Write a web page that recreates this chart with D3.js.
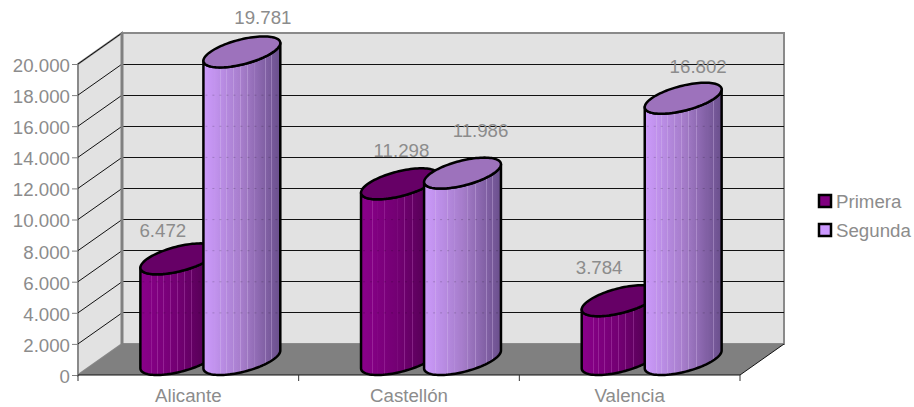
<!DOCTYPE html>
<html>
<head>
<meta charset="utf-8">
<script src="https://cdn.jsdelivr.net/npm/d3@7"></script>
<style>
  html, body { margin: 0; padding: 0; background: #fff; }
  svg { display: block; }
  text { font-family: "Liberation Sans", Arial, sans-serif; fill: #8c8c8c; }
</style>
</head>
<body>
<svg id="chart" width="914" height="407"></svg>
<script>
const categories = ["Alicante", "Castellón", "Valencia"];
const seriesNames = ["Primera", "Segunda"];
const primera = [6472, 11298, 3784];
const segunda = [19781, 11986, 16802];
const yTicks = [0, 2000, 4000, 6000, 8000, 10000, 12000, 14000, 16000, 18000, 20000];

// labels were dragged by hand in the original, so each one has its own nudge
const labelNudge = {
  Primera: [[-16, -28], [2, -33], [-21, -33]],
  Segunda: [[21, -34], [18, -43], [15, -32]],
};

let values = { Primera: primera, Segunda: segunda };
let fontSize = 18.7;

// the box: front plane plus a depth vector going back and up
let plotLeft = 78, plotRight = 740, plotBottom = 375, plotTop = 64;
let depthX = 44, depthY = -31;

let svg = d3.select("#chart");
let defs = svg.append("defs");

let x = d3.scaleBand().domain(categories).range([plotLeft, plotRight]);
let xInner = d3.scaleBand().domain(seriesNames).range([0, x.bandwidth()]).paddingInner(0).paddingOuter(0.75);
let y = d3.scaleLinear().domain([0, 20000]).range([plotBottom, plotTop]);

let locale = d3.formatLocale({ decimal: ",", thousands: ".", grouping: [3], currency: ["", ""] });
let fmt = locale.format(",");

function poly(points) {
  return "M" + points.map((p) => p.join(",")).join("L") + "Z";
}

// Walls and floor
svg.append("path")
  .attr("d", poly([[plotLeft, plotBottom], [plotLeft, plotTop], [plotLeft + depthX, plotTop + depthY], [plotLeft + depthX, plotBottom + depthY]]))
  .attr("fill", "#e2e2e2").attr("stroke", "#8a8a8a").attr("stroke-width", 2);
svg.append("path")
  .attr("d", poly([[plotLeft + depthX, plotBottom + depthY], [plotLeft + depthX, plotTop + depthY], [plotRight + depthX, plotTop + depthY], [plotRight + depthX, plotBottom + depthY]]))
  .attr("fill", "#e2e2e2").attr("stroke", "#8a8a8a").attr("stroke-width", 2);
svg.append("path")
  .attr("d", poly([[plotLeft, plotBottom], [plotLeft + depthX, plotBottom + depthY], [plotRight + depthX, plotBottom + depthY], [plotRight, plotBottom]]))
  .attr("fill", "#808080");

// Gridlines run along the side wall, then across the back wall
let grid = svg.append("g").attr("stroke", "#111").attr("stroke-width", 1).attr("fill", "none");
yTicks.filter((d) => d > 0).forEach((d) => {
  grid.append("path").attr("d", "M" + plotLeft + "," + y(d) + "L" + (plotLeft + depthX) + "," + (y(d) + depthY));
  if (d < 20000) {
    grid.append("path")
      .attr("d", "M" + (plotLeft + depthX) + "," + (y(d) + depthY) + "L" + (plotRight + depthX) + "," + (y(d) + depthY))
      .attr("shape-rendering", "crispEdges");
  }
});
svg.append("path")
  .attr("d", "M" + (plotLeft + depthX) + "," + (plotTop + depthY) + "V" + (plotBottom + depthY))
  .attr("stroke", "#808080").attr("stroke-width", 3);

// Floor front edge and right diagonal
svg.append("path")
  .attr("d", "M" + plotLeft + "," + plotBottom + "H" + plotRight + "L" + (plotRight + depthX) + "," + (plotBottom + depthY))
  .attr("fill", "none").attr("stroke", "#111").attr("stroke-width", 1);

// Axes
let yAxis = svg.append("g")
  .attr("transform", "translate(" + plotLeft + ",0)")
  .call(d3.axisLeft(y).tickValues(yTicks).tickSize(6).tickPadding(2).tickFormat(fmt));
yAxis.select(".domain").remove();
yAxis.selectAll("line").attr("stroke", "#808080").attr("stroke-width", 1);
yAxis.selectAll("text").attr("font-size", fontSize).attr("dy", "0.4em");
yAxis.attr("font-family", null);

let xAxis = svg.append("g")
  .attr("transform", "translate(0," + plotBottom + ")")
  .call(d3.axisBottom(x).tickSize(0).tickPadding(14));
xAxis.select(".domain").remove();
xAxis.selectAll("text").attr("font-size", fontSize);
xAxis.attr("font-family", null);

// ticks sit between the categories, not on them
svg.append("g").selectAll("line")
  .data(categories.concat([null]))
  .enter()
  .append("line")
  .attr("x1", (d) => (d ? x(d) : plotRight))
  .attr("x2", (d) => (d ? x(d) : plotRight))
  .attr("y1", plotBottom)
  .attr("y2", plotBottom + 6)
  .attr("stroke", "#333");

// Cylinder shading: a left to right gradient with the thin light streaks of the original
let streaks = [0.15, 0.22, 0.3, 0.39, 0.48, 0.57, 0.67, 0.81, 0.89];
let shades = {
  Primera: { start: "#8a008a", mid: "#720072", end: "#4a004a", cap: "#660066", streak: "#c060c0", swatch: "#800080" },
  Segunda: { start: "#cc9bfb", mid: "#a67dcb", end: "#6a4f8c", cap: "#9d72bc", streak: "#d8c0ee", swatch: "#cc99ff" },
};

seriesNames.forEach((name) => {
  let s = shades[name];
  let base = (t) => (t < 0.5 ? d3.interpolateRgb(s.start, s.mid)(t * 2) : d3.interpolateRgb(s.mid, s.end)((t - 0.5) * 2));
  let stops = [[0, base(0)]];
  streaks.forEach((p) => {
    let c = d3.interpolateRgb(base(p), s.streak)(0.35);
    stops.push([p - 0.006, base(p)], [p - 0.005, c], [p + 0.005, c], [p + 0.006, base(p)]);
  });
  stops.push([1, base(1)]);
  defs.append("linearGradient")
    .attr("id", "body-" + name)
    .selectAll("stop")
    .data(stops)
    .enter()
    .append("stop")
    .attr("offset", (d) => d[0])
    .attr("stop-color", (d) => d[1]);
});

// ellipse on the floor plane, squeezed into the bar's square footprint
function ellipsePoint(cx, cy, t) {
  let ux = xInner.bandwidth() / 2, vx = depthX / 2, vy = depthY / 2;
  return [cx + ux * Math.cos(t) + vx * Math.sin(t), cy + vy * Math.sin(t)];
}
let silhouette = Math.atan2(depthX / 2, xInner.bandwidth() / 2);
let lowerArc = d3.range(0, 1.001, 0.02).map((f) => silhouette - Math.PI + f * Math.PI);
let fullArc = d3.range(0, 1.001, 0.01).map((f) => f * 2 * Math.PI);

let bars = [];
categories.forEach((cat, i) => {
  seriesNames.forEach((name) => {
    bars.push({ cat: cat, i: i, name: name, value: values[name][i] });
  });
});

let cylinders = svg.append("g").selectAll("g")
  .data(bars)
  .enter()
  .append("g")
  .each(function (d) {
    let cx = x(d.cat) + xInner(d.name) + xInner.bandwidth() / 2 + depthX / 2;
    let yBase = y(0) + depthY / 2;
    let yTop = y(d.value) + depthY / 2;
    let lower = lowerArc.map((t) => ellipsePoint(cx, yBase, t));
    let upper = lowerArc.map((t) => ellipsePoint(cx, yTop, t)).reverse();
    let halfWidth = ellipsePoint(cx, 0, silhouette)[0] - cx;
    let g = d3.select(this);
    g.append("path")
      .attr("d", poly(lower.concat(upper)))
      .attr("fill", "url(#body-" + d.name + ")")
      .attr("stroke", "#000").attr("stroke-width", 2.5).attr("stroke-linejoin", "round");
    // the back wall gridlines show through faintly in the original
    g.selectAll("line.ghost")
      .data(yTicks.filter((t) => t > 0 && y(t) + depthY > yTop + 20))
      .enter()
      .append("line")
      .attr("class", "ghost")
      .attr("x1", cx - halfWidth + 2)
      .attr("x2", cx + halfWidth - 2)
      .attr("y1", (t) => y(t) + depthY)
      .attr("y2", (t) => y(t) + depthY)
      .attr("stroke", "#000").attr("stroke-opacity", 0.18).attr("stroke-dasharray", "2 5");
    g.append("path")
      .attr("d", poly(fullArc.map((t) => ellipsePoint(cx, yTop, t))))
      .attr("fill", shades[d.name].cap)
      .attr("stroke", "#000").attr("stroke-width", 2.5);
  });

// Value labels
svg.append("g").selectAll("text")
  .data(bars)
  .enter()
  .append("text")
  .attr("x", (d) => x(d.cat) + xInner(d.name) + xInner.bandwidth() / 2 + depthX / 2 + labelNudge[d.name][d.i][0])
  .attr("y", (d) => y(d.value) + depthY / 2 + labelNudge[d.name][d.i][1])
  .attr("dy", "0.35em")
  .attr("text-anchor", "middle")
  .attr("font-size", fontSize)
  .text((d) => fmt(d.value));

// Legend
let legend = svg.append("g").selectAll("g")
  .data(seriesNames)
  .enter()
  .append("g")
  .attr("transform", (d, i) => "translate(819," + (195 + i * 29) + ")");
legend.append("rect")
  .attr("width", 12).attr("height", 12)
  .attr("fill", (d) => shades[d].swatch)
  .attr("stroke", "#000").attr("stroke-width", 2.5);
legend.append("text")
  .attr("x", 17).attr("y", 6).attr("dy", "0.35em")
  .attr("font-size", fontSize)
  .text((d) => d);
</script>
</body>
</html>
